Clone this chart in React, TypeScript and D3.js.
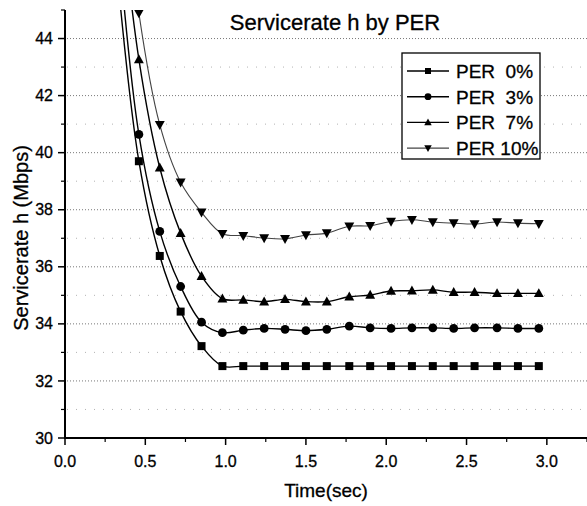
import React, { useEffect, useRef } from 'react';
import * as d3 from 'd3';

// time points (sec) shared by all four series
const times = [0.33, 0.46, 0.59, 0.72, 0.85, 0.98, 1.11, 1.24, 1.37, 1.5, 1.63, 1.77, 1.9, 2.03, 2.16, 2.29, 2.42, 2.55, 2.69, 2.82, 2.95];

const per0 = [46.0, 39.7, 36.38, 34.43, 33.22, 32.52, 32.52, 32.52, 32.52, 32.52, 32.52, 32.52, 32.52, 32.52, 32.52, 32.52, 32.52, 32.52, 32.52, 32.52, 32.52];
const per3 = [47.5, 40.64, 37.24, 35.31, 34.06, 33.69, 33.78, 33.84, 33.81, 33.76, 33.81, 33.92, 33.86, 33.84, 33.86, 33.86, 33.84, 33.86, 33.86, 33.84, 33.84];
const per7 = [49.5, 43.27, 39.47, 37.18, 35.67, 34.88, 34.84, 34.78, 34.86, 34.78, 34.78, 34.95, 35.01, 35.15, 35.16, 35.19, 35.11, 35.11, 35.07, 35.07, 35.07];
const per10 = [51.5, 44.89, 40.98, 38.96, 37.91, 37.16, 37.09, 37.01, 36.98, 37.11, 37.18, 37.42, 37.44, 37.59, 37.65, 37.57, 37.53, 37.5, 37.57, 37.53, 37.51];

const seriesNames = ['PER  0%', 'PER  3%', 'PER  7%', 'PER 10%'];
const seriesValues = [per0, per3, per7, per10];
const markers = ['square', 'circle', 'triUp', 'triDown'];

const xTicks = [0, 0.5, 1.0, 1.5, 2.0, 2.5, 3.0];
const yTicks = [30, 32, 34, 36, 38, 40, 42, 44];

const FONT = '"Liberation Sans", Arial, sans-serif';

function drawMarker(g: any, kind: string, cx: number, cy: number, s: number) {
  if (kind === 'square') {
    g.append('rect').attr('x', cx - s / 2).attr('y', cy - s / 2).attr('width', s).attr('height', s).attr('fill', '#000');
  } else if (kind === 'circle') {
    g.append('circle').attr('cx', cx).attr('cy', cy).attr('r', s / 2 + 0.4).attr('fill', '#000');
  } else if (kind === 'triUp') {
    const h = s * 1.05;
    g.append('path')
      .attr('d', `M${cx},${cy - h * 0.62}L${cx + s * 0.62},${cy + h * 0.45}L${cx - s * 0.62},${cy + h * 0.45}Z`)
      .attr('fill', '#000');
  } else {
    const h = s * 1.05;
    g.append('path')
      .attr('d', `M${cx},${cy + h * 0.62}L${cx + s * 0.62},${cy - h * 0.45}L${cx - s * 0.62},${cy - h * 0.45}Z`)
      .attr('fill', '#000');
  }
}

const ServiceRateChart: React.FC = () => {
  const ref = useRef<SVGSVGElement>(null);

  useEffect(() => {
    if (!ref.current) return;
    const svg = d3.select(ref.current);
    svg.selectAll('*').remove();

    const left = 65;
    const right = 587;
    const top = 10;
    const bottom = 438;

    const x = d3.scaleLinear().domain([0, 3.25]).range([left, right]);
    const y = d3.scaleLinear().domain([30, 45]).range([bottom, top]);

    svg.append('defs').append('clipPath').attr('id', 'plotclip')
      .append('rect').attr('x', left).attr('y', top).attr('width', right - left).attr('height', bottom - top);

    // minor grid (odd values)
    const minorY = d3.range(31, 45, 2);
    svg.append('g').selectAll('line').data(minorY).enter().append('line')
      .attr('x1', left + 2).attr('x2', right)
      .attr('y1', d => y(d)).attr('y2', d => y(d))
      .attr('stroke', '#a0a0a0').attr('stroke-width', 0.8).attr('stroke-dasharray', '1,8');

    // major grid
    svg.append('g').selectAll('line').data(yTicks.filter(d => d > 30)).enter().append('line')
      .attr('x1', left + 2).attr('x2', right)
      .attr('y1', d => y(d)).attr('y2', d => y(d))
      .attr('stroke', '#555').attr('stroke-width', 0.8).attr('stroke-dasharray', '1,2');

    // series
    const plot = svg.append('g').attr('clip-path', 'url(#plotclip)');
    const line = d3.line<number>()
      .x((_, i) => x(times[i]))
      .y(d => y(d))
      .curve(d3.curveCatmullRom.alpha(0.5));

    seriesValues.forEach((vals, si) => {
      plot.append('path')
        .datum(vals)
        .attr('d', line)
        .attr('fill', 'none')
        .attr('stroke', si === 3 ? '#444' : '#000')
        .attr('stroke-width', si === 3 ? 1.1 : 1.4);
    });
    seriesValues.forEach((vals, si) => {
      vals.forEach((v, i) => {
        if (v > 45) return;
        drawMarker(plot, markers[si], x(times[i]), y(v), 8);
      });
    });

    // axes
    const axes = svg.append('g');
    axes.append('line').attr('x1', left).attr('x2', left).attr('y1', top).attr('y2', bottom + 1)
      .attr('stroke', '#000').attr('stroke-width', 2);
    axes.append('line').attr('x1', left - 1).attr('x2', right).attr('y1', bottom).attr('y2', bottom)
      .attr('stroke', '#000').attr('stroke-width', 2);

    // y ticks
    axes.selectAll('.ymaj').data(yTicks).enter().append('line')
      .attr('x1', left - 7).attr('x2', left).attr('y1', d => y(d)).attr('y2', d => y(d))
      .attr('stroke', '#000').attr('stroke-width', 1.5);
    axes.selectAll('.ymin').data(d3.range(31, 46, 2)).enter().append('line')
      .attr('x1', left - 4).attr('x2', left).attr('y1', d => y(d)).attr('y2', d => y(d))
      .attr('stroke', '#000').attr('stroke-width', 1.2);
    axes.selectAll('.ylab').data(yTicks).enter().append('text')
      .attr('x', left - 12).attr('y', d => y(d)).attr('dy', '0.35em')
      .attr('text-anchor', 'end').attr('font-family', FONT).attr('font-size', 16)
      .attr('stroke', '#000').attr('stroke-width', 0.3)
      .text(d => d);

    // x ticks
    axes.selectAll('.xmaj').data(xTicks).enter().append('line')
      .attr('x1', d => x(d)).attr('x2', d => x(d)).attr('y1', bottom).attr('y2', bottom + 7)
      .attr('stroke', '#000').attr('stroke-width', 1.5);
    axes.selectAll('.xmin').data(d3.range(0.25, 3.26, 0.5)).enter().append('line')
      .attr('x1', d => x(d)).attr('x2', d => x(d)).attr('y1', bottom).attr('y2', bottom + 4)
      .attr('stroke', '#000').attr('stroke-width', 1.2);
    axes.selectAll('.xlab').data(xTicks).enter().append('text')
      .attr('x', d => x(d)).attr('y', bottom + 29)
      .attr('text-anchor', 'middle').attr('font-family', FONT).attr('font-size', 16)
      .attr('stroke', '#000').attr('stroke-width', 0.3)
      .text(d => d.toFixed(1));

    // axis titles
    svg.append('text')
      .attr('x', (left + right) / 2).attr('y', 497)
      .attr('text-anchor', 'middle').attr('font-family', FONT).attr('font-size', 19)
      .attr('stroke', '#000').attr('stroke-width', 0.3)
      .text('Time(sec)');
    svg.append('text')
      .attr('transform', `translate(28,${238}) rotate(-90)`)
      .attr('text-anchor', 'middle').attr('font-family', FONT).attr('font-size', 20)
      .attr('stroke', '#000').attr('stroke-width', 0.3)
      .text('Servicerate h (Mbps)');

    // title
    svg.append('text')
      .attr('x', 335).attr('y', 30)
      .attr('text-anchor', 'middle').attr('font-family', FONT).attr('font-size', 22)
      .attr('stroke', '#000').attr('stroke-width', 0.3)
      .text('Servicerate h by PER');

    // legend
    const legend = svg.append('g').attr('transform', 'translate(402,53)');
    legend.append('rect').attr('x', 0).attr('y', 0).attr('width', 138).attr('height', 106)
      .attr('fill', '#fff').attr('stroke', '#000').attr('stroke-width', 1.3);
    seriesNames.forEach((name, i) => {
      const ly = 18 + i * 25.7;
      legend.append('line').attr('x1', 5).attr('x2', 47).attr('y1', ly).attr('y2', ly)
        .attr('stroke', i === 3 ? '#444' : '#000').attr('stroke-width', i === 3 ? 1.1 : 1.4);
      drawMarker(legend, markers[i], 26, ly, 6);
      legend.append('text')
        .attr('x', 54).attr('y', ly).attr('dy', '0.36em')
        .attr('font-family', FONT).attr('font-size', 19)
        .attr('stroke', '#000').attr('stroke-width', 0.3)
        .style('white-space', 'pre')
        .text(name);
    });
  }, []);

  return (
    <svg ref={ref} width={587} height={506}
      style={{ position: 'absolute', left: 0, top: 0, background: '#fff' }} />
  );
};

export default function App() {
  return <ServiceRateChart />;
}
